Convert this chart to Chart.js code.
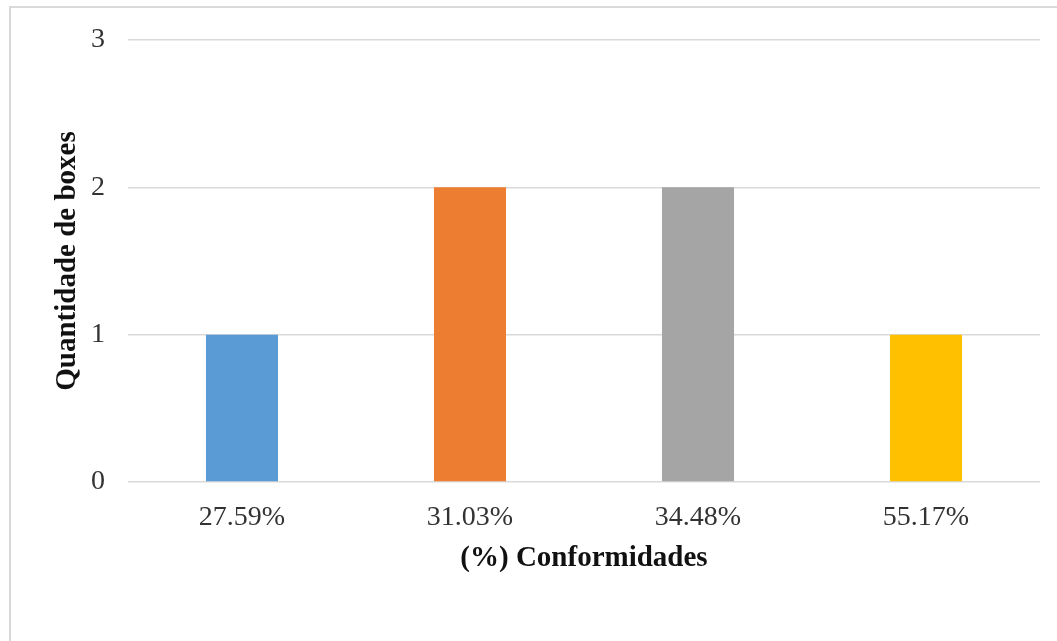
<!DOCTYPE html>
<html>
<head>
<meta charset="utf-8">
<script src="https://cdn.jsdelivr.net/npm/chart.js@4"></script>
<style>
  body { margin: 0; background: #fff; overflow: hidden; }
  #frame { position: absolute; left: 9px; top: 6px; width: 1060px; height: 660px; border: 2px solid #d9d9d9; }
  #myChart { position: absolute; left: 0; top: 0; }
</style>
</head>
<body>
<div id="frame"></div>
<canvas id="myChart" width="1057" height="641"></canvas>
<script>
const categories = ['27.59%', '31.03%', '34.48%', '55.17%'];
const boxCounts = [1, 2, 2, 1];
const barColors = ['#5B9BD5', '#ED7D31', '#A5A5A5', '#FFC000'];
const yTicks = [0, 1, 2, 3];

const chartData = {
  labels: categories,
  datasets: [{
    label: 'Quantidade de boxes',
    data: boxCounts,
    backgroundColor: barColors,
    borderWidth: 0,
    categoryPercentage: 1,
    barPercentage: 0.316
  }]
};

const chartOptions = {
  responsive: false,
  animation: false,
  layout: { padding: { left: 0, right: 17, top: 40, bottom: 0 } },
  plugins: { legend: { display: false }, tooltip: { enabled: false } },
  scales: {
    x: {
      afterFit: s => { s.height = 159; },
      grid: { display: false, drawTicks: false },
      border: { display: false },
      ticks: { color: '#333', padding: 19, font: { family: '"Liberation Serif", serif', size: 28 } },
      title: {
        display: true,
        text: '(%) Conformidades',
        color: '#111',
        padding: { top: 0, bottom: 65 },
        font: { family: '"Liberation Serif", serif', size: 29, weight: 'bold' }
      }
    },
    y: {
      min: 0,
      max: 3,
      afterBuildTicks: s => { s.ticks = yTicks.map(v => ({ value: v })); },
      afterFit: s => { s.width = 128; },
      grid: { color: '#d9d9d9', lineWidth: 1.5, drawTicks: false },
      border: { display: false },
      ticks: { color: '#333', padding: 23, font: { family: '"Liberation Serif", serif', size: 28 } },
      title: {
        display: true,
        text: 'Quantidade de boxes',
        color: '#111',
        padding: { top: 50, bottom: 0 },
        font: { family: '"Liberation Serif", serif', size: 29, weight: 'bold' }
      }
    }
  }
};

const ctx = document.getElementById('myChart').getContext('2d');
const myChart = new Chart(ctx, { type: 'bar', data: chartData, options: chartOptions });
</script>
</body>
</html>
